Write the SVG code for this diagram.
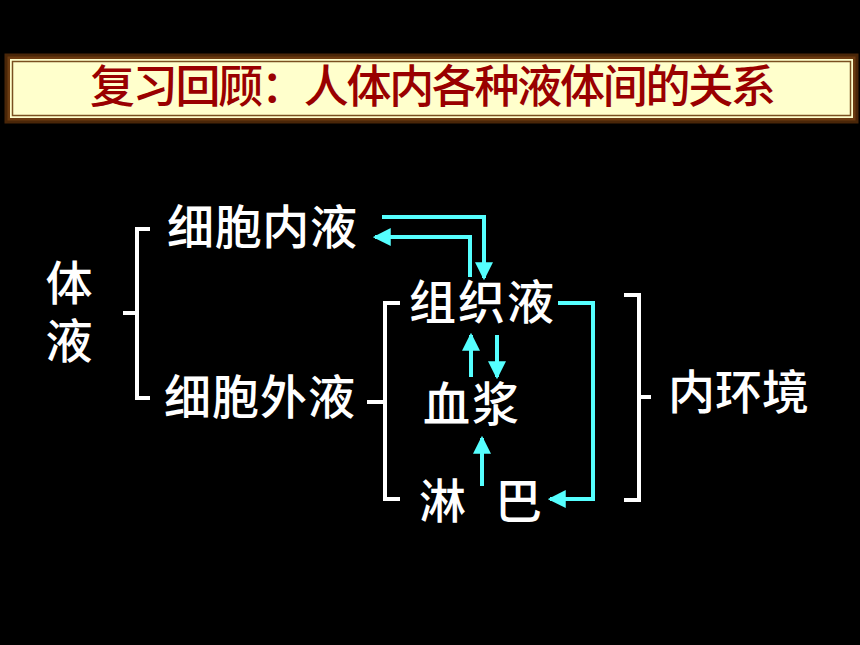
<svg xmlns="http://www.w3.org/2000/svg" width="860" height="645" viewBox="0 0 860 645">
<style>
.t{font-family:"Noto Sans CJK SC","Liberation Sans",sans-serif;font-size:47px;font-weight:500;fill:#ffffff;}
.title{font-family:"Noto Sans CJK SC","Liberation Serif",serif;font-size:45px;fill:#990000;font-weight:500;}
.br{fill:none;stroke:#ffffff;stroke-width:4;}
.ar{fill:none;stroke:#55ffff;stroke-width:4;}
</style>
<defs>
<marker id="ah" markerUnits="userSpaceOnUse" markerWidth="18" markerHeight="18" refX="14" refY="8" orient="auto" viewBox="0 0 16 16">
<path d="M0,0 L16,8 L0,16 Z" fill="#55ffff"/>
</marker>
</defs>
<rect x="0" y="0" width="860" height="645" fill="#000000"/>
<g id="title">
<rect x="6" y="55" width="851" height="67" fill="#6b3a10" stroke="#4a2608" stroke-width="3"/>
<rect x="10" y="59" width="843" height="59" fill="#ffffcc"/>
<rect x="12.5" y="61.5" width="838" height="54" fill="none" stroke="#7a5020" stroke-width="1.5"/>
<text class="title" x="90" y="103" textLength="686" lengthAdjust="spacing">复习回顾：人体内各种液体间的关系</text>
</g>
<g id="tiye"><text class="t" x="69" y="259" style="writing-mode:vertical-rl" letter-spacing="11">体液</text></g>
<g id="xibaoneiye"><text class="t" x="167" y="244" textLength="190">细胞内液</text></g>
<g id="xibaowaiye"><text class="t" x="164" y="414" textLength="191">细胞外液</text></g>
<g id="zuzhiye"><text class="t" x="409" y="319" textLength="145">组织液</text></g>
<g id="xuejiang"><text class="t" x="423" y="421" textLength="96">血浆</text></g>
<g id="linba"><text class="t" x="419" y="518">淋</text><text class="t" x="495" y="518">巴</text></g>
<g id="neihuanjing"><text class="t" x="668" y="409" textLength="141">内环境</text></g>
<g id="brackets">
<path class="br" d="M150,229 H137 V398 H150 M123,313 H137"/>
<path class="br" d="M400,303 H385 V499 H400 M367,402 H385"/>
<path class="br" d="M624,295 H639 V500 H624 M639,397 H651"/>
</g>
<g id="connectors">
<path class="ar" d="M382,217 H484 V278" marker-end="url(#ah)"/>
<path class="ar" d="M470,277 V237 H375" marker-end="url(#ah)"/>
<path class="ar" d="M471,377 V335" marker-end="url(#ah)"/>
<path class="ar" d="M497,335 V377" marker-end="url(#ah)"/>
<path class="ar" d="M482,486 V438" marker-end="url(#ah)"/>
<path class="ar" d="M558,303 H593 V499 H550" marker-end="url(#ah)"/>
</g>
</svg>
